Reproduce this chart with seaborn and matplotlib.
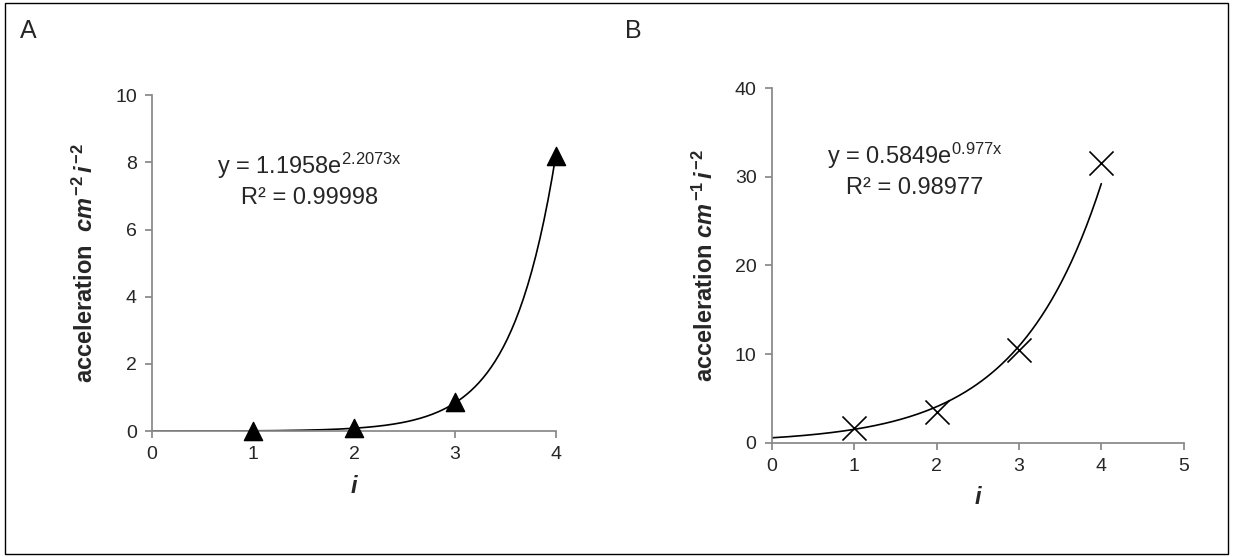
import numpy as np
import pandas as pd
import seaborn as sns
import matplotlib.pyplot as plt
from matplotlib.patches import Rectangle

# panel A data
a_i = [1, 2, 3, 4]
a_acc = [0.009, 0.08, 0.88, 8.2]
# panel B data
b_i = [1, 2, 3, 4]
b_acc = [1.7, 3.5, 10.5, 31.5]

sns.set_theme(style="white")
plt.rcParams['font.family'] = ['Liberation Sans', 'DejaVu Sans']
plt.rcParams['axes.unicode_minus'] = False
plt.rcParams['mathtext.fontset'] = 'custom'
plt.rcParams['mathtext.rm'] = 'Liberation Sans'
plt.rcParams['mathtext.it'] = 'Liberation Sans:italic'
plt.rcParams['mathtext.bf'] = 'Liberation Sans:bold'
plt.rcParams['mathtext.bfit'] = 'Liberation Sans:bold:italic'

fig = plt.figure(figsize=(12.33, 5.57), dpi=100)
fig.patches.append(Rectangle((0.004, 0.006), 0.992, 0.988, transform=fig.transFigure,
                             fill=False, edgecolor='black', linewidth=1))


def exp_fit(x, y, x0, x1):
    k, lna = np.polyfit(x, np.log(y), 1)
    xs = np.linspace(x0, x1, 200)
    return xs, np.exp(lna) * np.exp(k * xs)


def style(ax, xlim, ylim, yticks, ylabel):
    ax.set_xlim(*xlim)
    ax.set_ylim(*ylim)
    ax.set_yticks(yticks)
    for s in ['top', 'right']:
        ax.spines[s].set_visible(False)
    for s in ['left', 'bottom']:
        ax.spines[s].set_color('#888888')
    ax.tick_params(axis='both', direction='out', length=5, color='#888888',
                   labelsize=14, bottom=True, left=True, pad=6)
    ax.set_xlabel('i', fontsize=17, fontweight='bold', fontstyle='italic', labelpad=8)
    ax.set_ylabel(ylabel, fontsize=17, fontweight='bold', labelpad=12)


axA = fig.add_axes([0.1233, 0.226, 0.3277, 0.603])
df_a = pd.DataFrame({'i': a_i, 'acc': a_acc})
xs, ys = exp_fit(a_i, a_acc, 0, 4)
axA.plot(xs, ys, color='black', linewidth=1.2)
sns.scatterplot(data=df_a, x='i', y='acc', marker='^', s=170, color='black',
                edgecolor='black', ax=axA, zorder=3, clip_on=False)
style(axA, (0, 4), (0, 10), [0, 2, 4, 6, 8, 10],
      r'acceleration  $\mathbfit{cm}^{\,\mathbf{-2}}\, \mathbfit{i}^{\,\mathbf{-2}}$')
axA.set_xticks([0, 1, 2, 3, 4])
axA.text(1.56, 7.9, r'y = 1.1958e$^{\mathrm{2.2073x}}$', fontsize=17, ha='center', va='center')
axA.text(1.56, 6.95, 'R² = 0.99998', fontsize=17, ha='center', va='center')

axB = fig.add_axes([0.626, 0.205, 0.334, 0.637])
df_b = pd.DataFrame({'i': b_i, 'acc': b_acc})
xs, ys = exp_fit(b_i, b_acc, 0, 4)
axB.plot(xs, ys, color='black', linewidth=1.2)
sns.scatterplot(data=df_b, x='i', y='acc', marker='x', s=300, color='black',
                linewidth=1.2, ax=axB, zorder=3)
style(axB, (0, 5), (0, 40), [0, 10, 20, 30, 40],
      r'acceleration $\mathbfit{cm}^{\,\mathbf{-1}}\, \mathbfit{i}^{\,\mathbf{-2}}$')
axB.set_xticks([0, 1, 2, 3, 4, 5])
axB.text(1.74, 32.4, r'y = 0.5849e$^{\mathrm{0.977x}}$', fontsize=17, ha='center', va='center')
axB.text(1.74, 28.7, 'R² = 0.98977', fontsize=17, ha='center', va='center')

fig.text(0.016, 0.945, 'A', fontsize=18, va='center')
fig.text(0.507, 0.945, 'B', fontsize=18, va='center')

fig.savefig('out.png', dpi=100)
